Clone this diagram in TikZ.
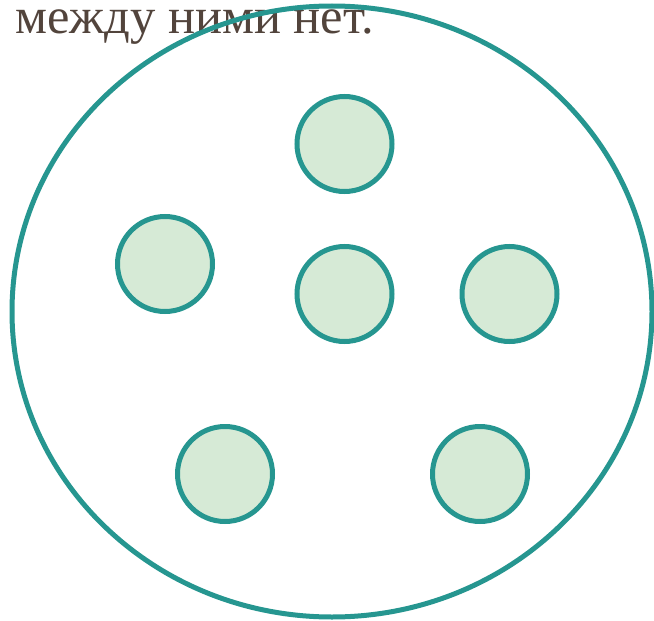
\documentclass[tikz,border=0pt]{standalone}
\usepackage{fontspec}
\setmainfont{Liberation Serif}
\definecolor{teal1}{RGB}{38,150,144}
\definecolor{fillg}{RGB}{214,234,214}
\definecolor{txtc}{RGB}{82,68,60}
\begin{document}
\begin{tikzpicture}[x=1pt,y=-1pt,
  cell/.style={circle,draw=teal1,fill=fillg,line width=5pt,minimum size=95pt,inner sep=0pt}]
\useasboundingbox (0,0) rectangle (654,621);
\node[anchor=base west,text=txtc,font=\fontsize{50.5}{54}\selectfont,inner sep=0pt] (t) at (15,34) {между ними нет.};
\draw[teal1,line width=5pt] (332,311.5) ellipse [x radius=320,y radius=305.5];
\node[cell] (c1) at (344.5,144) {};
\node[cell] (c2) at (165,264) {};
\node[cell] (c3) at (344.5,294) {};
\node[cell] (c4) at (509.5,294) {};
\node[cell] (c5) at (225,474) {};
\node[cell] (c6) at (480,474) {};
\end{tikzpicture}
\end{document}
